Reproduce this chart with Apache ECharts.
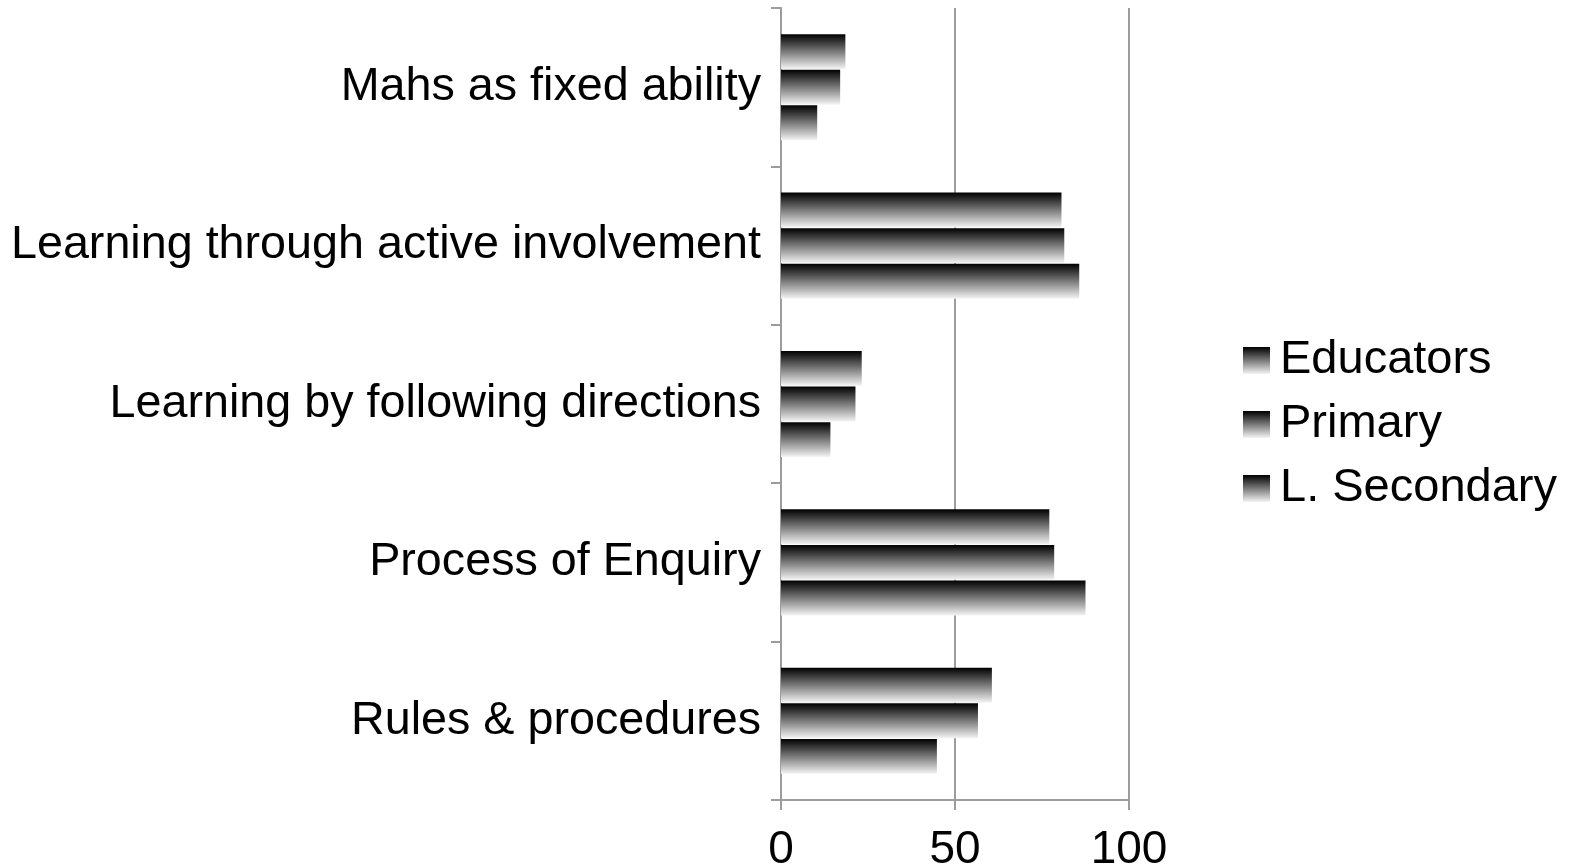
<!DOCTYPE html>
<html>
<head>
<meta charset="utf-8">
<script src="https://cdn.jsdelivr.net/npm/echarts@6/dist/echarts.min.js"></script>
<style>
  html, body { margin: 0; padding: 0; background: #fff; }
  #chart { width: 1574px; height: 867px; }
</style>
</head>
<body>
<div id="chart"></div>
<script>
// Categories listed bottom to top on the vertical axis
const categories = [
  'Rules & procedures',
  'Process of Enquiry',
  'Learning by following directions',
  'Learning through active involvement',
  'Mahs as fixed ability'
];
const educators   = [60.6, 77.1, 23.2, 80.6, 18.5];
const primary     = [56.6, 78.5, 21.4, 81.4, 17.0];
const lSecondary  = [44.8, 87.5, 14.2, 85.7, 10.4];
const seriesNames = ['Educators', 'Primary', 'L. Secondary'];
const xTicks = [0, 50, 100];

const FONT = '"Liberation Sans", Arial, sans-serif';
const gridColor = '#9c9c9c';

// Black-to-white vertical fill used for every bar
const shade = () => new echarts.graphic.LinearGradient(0, 0, 0, 1, [
  { offset: 0, color: '#000000' },
  { offset: 1, color: '#f4f4f4' }
]);

function barSeries(name, values) {
  return {
    name: name,
    type: 'bar',
    data: values,
    barGap: '2%',
    barCategoryGap: '33%',
    itemStyle: { color: shade() }
  };
}

const chart = echarts.init(document.getElementById('chart'), null, { renderer: 'canvas' });
chart.setOption({
  animation: false,
  backgroundColor: '#ffffff',
  textStyle: { fontFamily: FONT },
  grid: {
    left: 781, right: 445, top: 8, bottom: 67,
    containLabel: false, outerBoundsMode: 'none'
  },
  legend: {
    data: seriesNames,
    orient: 'vertical',
    left: 1238,
    top: 332,
    itemWidth: 27,
    itemHeight: 27,
    itemGap: 17,
    textStyle: { fontSize: 47, color: '#000', fontFamily: FONT, padding: [0, 0, 0, 5] },
    icon: 'rect'
  },
  xAxis: {
    type: 'value',
    min: 0,
    max: 100,
    interval: 50,
    axisLine: { show: true, lineStyle: { color: gridColor, width: 2 } },
    axisTick: { show: true, length: 10, lineStyle: { color: gridColor, width: 2 } },
    splitLine: { show: true, lineStyle: { color: gridColor, width: 2 } },
    axisLabel: {
      fontSize: 46, color: '#000', fontFamily: FONT, margin: 27,
      formatter: v => xTicks.includes(v) ? String(v) : ''
    }
  },
  yAxis: {
    type: 'category',
    data: categories,
    axisLine: { show: true, lineStyle: { color: gridColor, width: 2 } },
    axisTick: { show: true, length: 10, lineStyle: { color: gridColor, width: 2 } },
    axisLabel: { fontSize: 46.7, color: '#000', fontFamily: FONT, margin: 20, padding: [6, 0, 0, 0] }
  },
  series: [
    barSeries('Educators', educators),
    barSeries('Primary', primary),
    barSeries('L. Secondary', lSecondary)
  ]
});
</script>
</body>
</html>
